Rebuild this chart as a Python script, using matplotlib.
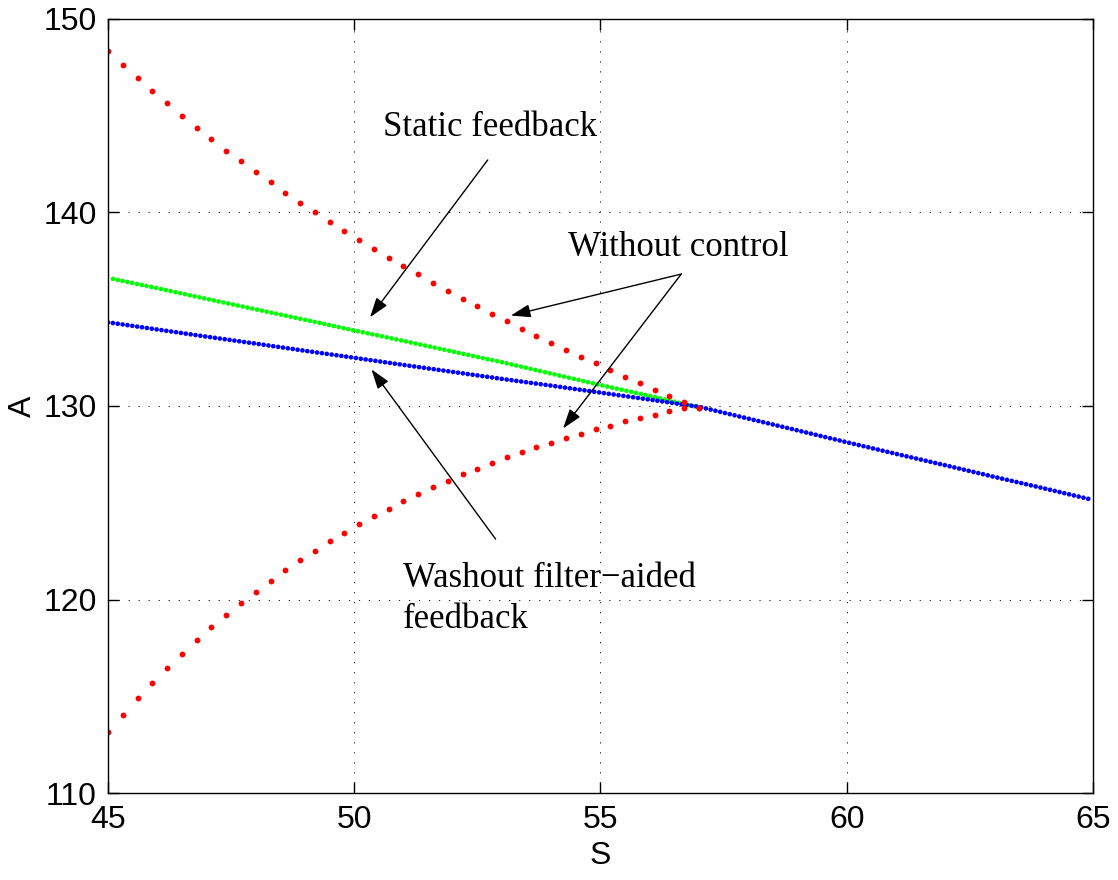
from matplotlib import pyplot as plt

# Uncontrolled system: two red branches, one point every 0.3 in S
s_red = [45.0, 45.3, 45.6, 45.9, 46.2, 46.5, 46.8, 47.1, 47.4, 47.7,
         48.0, 48.3, 48.6, 48.9, 49.2, 49.5, 49.8, 50.1, 50.4, 50.7,
         51.0, 51.3, 51.6, 51.9, 52.2, 52.5, 52.8, 53.1, 53.4, 53.7,
         54.0, 54.3, 54.6, 54.9, 55.2, 55.5, 55.8, 56.1, 56.4, 56.7, 57.0]
a_red_upper = [148.33, 147.62, 146.93, 146.26, 145.63, 144.99, 144.37, 143.77, 143.18, 142.63,
               142.07, 141.55, 141.01, 140.50, 140.00, 139.51, 139.05, 138.57, 138.11, 137.66,
               137.23, 136.80, 136.37, 135.95, 135.54, 135.15, 134.75, 134.37, 133.99, 133.63,
               133.25, 132.89, 132.53, 132.20, 131.84, 131.51, 131.19, 130.84, 130.53, 130.21, 129.91]
a_red_lower = [113.19, 114.06, 114.91, 115.70, 116.47, 117.20, 117.90, 118.57, 119.21, 119.81,
               120.41, 120.98, 121.52, 122.03, 122.53, 123.01, 123.44, 123.89, 124.31, 124.70,
               125.08, 125.46, 125.80, 126.14, 126.47, 126.76, 127.06, 127.35, 127.61, 127.87,
               128.11, 128.36, 128.57, 128.83, 128.98, 129.21, 129.38, 129.54, 129.73, 129.88, 129.91]

# Static feedback (green)
s_green = [45.1, 46, 47, 48, 49, 50, 51, 52, 53, 54, 55, 56, 57]
a_green = [136.56, 136.08, 135.53, 134.99, 134.45, 133.90, 133.36, 132.81, 132.26,
           131.67, 131.08, 130.52, 129.92]

# Washout filter-aided feedback (blue)
s_blue = [45, 46, 47, 48, 49, 50, 51, 52, 53, 54, 55, 56, 57, 58, 59, 60, 61, 62, 63, 64, 65]
a_blue = [134.32, 133.95, 133.58, 133.22, 132.85, 132.49, 132.12, 131.76, 131.40, 131.05,
          130.69, 130.33, 129.96, 129.35, 128.74, 128.13, 127.53, 126.94, 126.34, 125.75, 125.15]


def main():
    fig = plt.figure(figsize=(11.18, 8.8), dpi=100)
    ax = fig.add_axes([0.0966, 0.0984, 0.8810, 0.8805])

    # dense dotted curves
    dots = dict(linewidth=3.4, linestyle=(0, (0.01, 1.03)), dash_capstyle='round')
    ax.plot(s_green, a_green, color='#00ff00', **dots)
    ax.plot(s_blue, a_blue, color='#0000ff', **dots)

    # sparse red points
    ax.plot(s_red, a_red_upper, 'o', color='#ff0000', markersize=4.2, markeredgewidth=0)
    ax.plot(s_red, a_red_lower, 'o', color='#ff0000', markersize=4.2, markeredgewidth=0)

    ax.set_xlim(45, 65)
    ax.set_ylim(110, 150)
    ax.set_xticks([45, 50, 55, 60, 65])
    ax.set_yticks([110, 120, 130, 140, 150])
    ax.grid(True, color='#222222', linewidth=0.7, linestyle=(0, (1.3, 9)))
    ax.tick_params(direction='in', length=8, width=1, top=True, right=True,
                   labelsize=23, pad=8)
    for lab in ax.get_xticklabels() + ax.get_yticklabels():
        lab.set_family('Liberation Sans')
    for sp in ax.spines.values():
        sp.set_linewidth(1.0)

    ax.set_xlabel('S', fontsize=23, family='Liberation Sans', labelpad=5)
    ax.set_ylabel('A', fontsize=23, family='Liberation Sans', labelpad=4)

    # annotations
    txt = dict(fontsize=25, family='Liberation Serif', va='baseline', ha='left')
    ax.text(50.58, 143.94, 'Static feedback', **txt)
    ax.text(54.34, 137.74, 'Without control', **txt)
    ax.text(50.98, 120.67, 'Washout filter\u2212aided', **txt)
    ax.text(50.98, 118.52, 'feedback', **txt)

    arr = dict(arrowstyle='-|>,head_length=0.6,head_width=0.2', mutation_scale=20,
               color='k', lw=1, shrinkA=0, shrinkB=0)
    ax.annotate('', xy=(50.32, 134.58), xytext=(52.71, 142.70), arrowprops=arr)
    ax.annotate('', xy=(53.18, 134.67), xytext=(56.64, 136.81), arrowprops=arr)
    ax.annotate('', xy=(54.24, 128.84), xytext=(56.64, 136.81), arrowprops=arr)
    ax.annotate('', xy=(50.35, 131.89), xytext=(52.87, 123.13), arrowprops=arr)

    fig.savefig('out.png', dpi=100)


if __name__ == '__main__':
    main()
